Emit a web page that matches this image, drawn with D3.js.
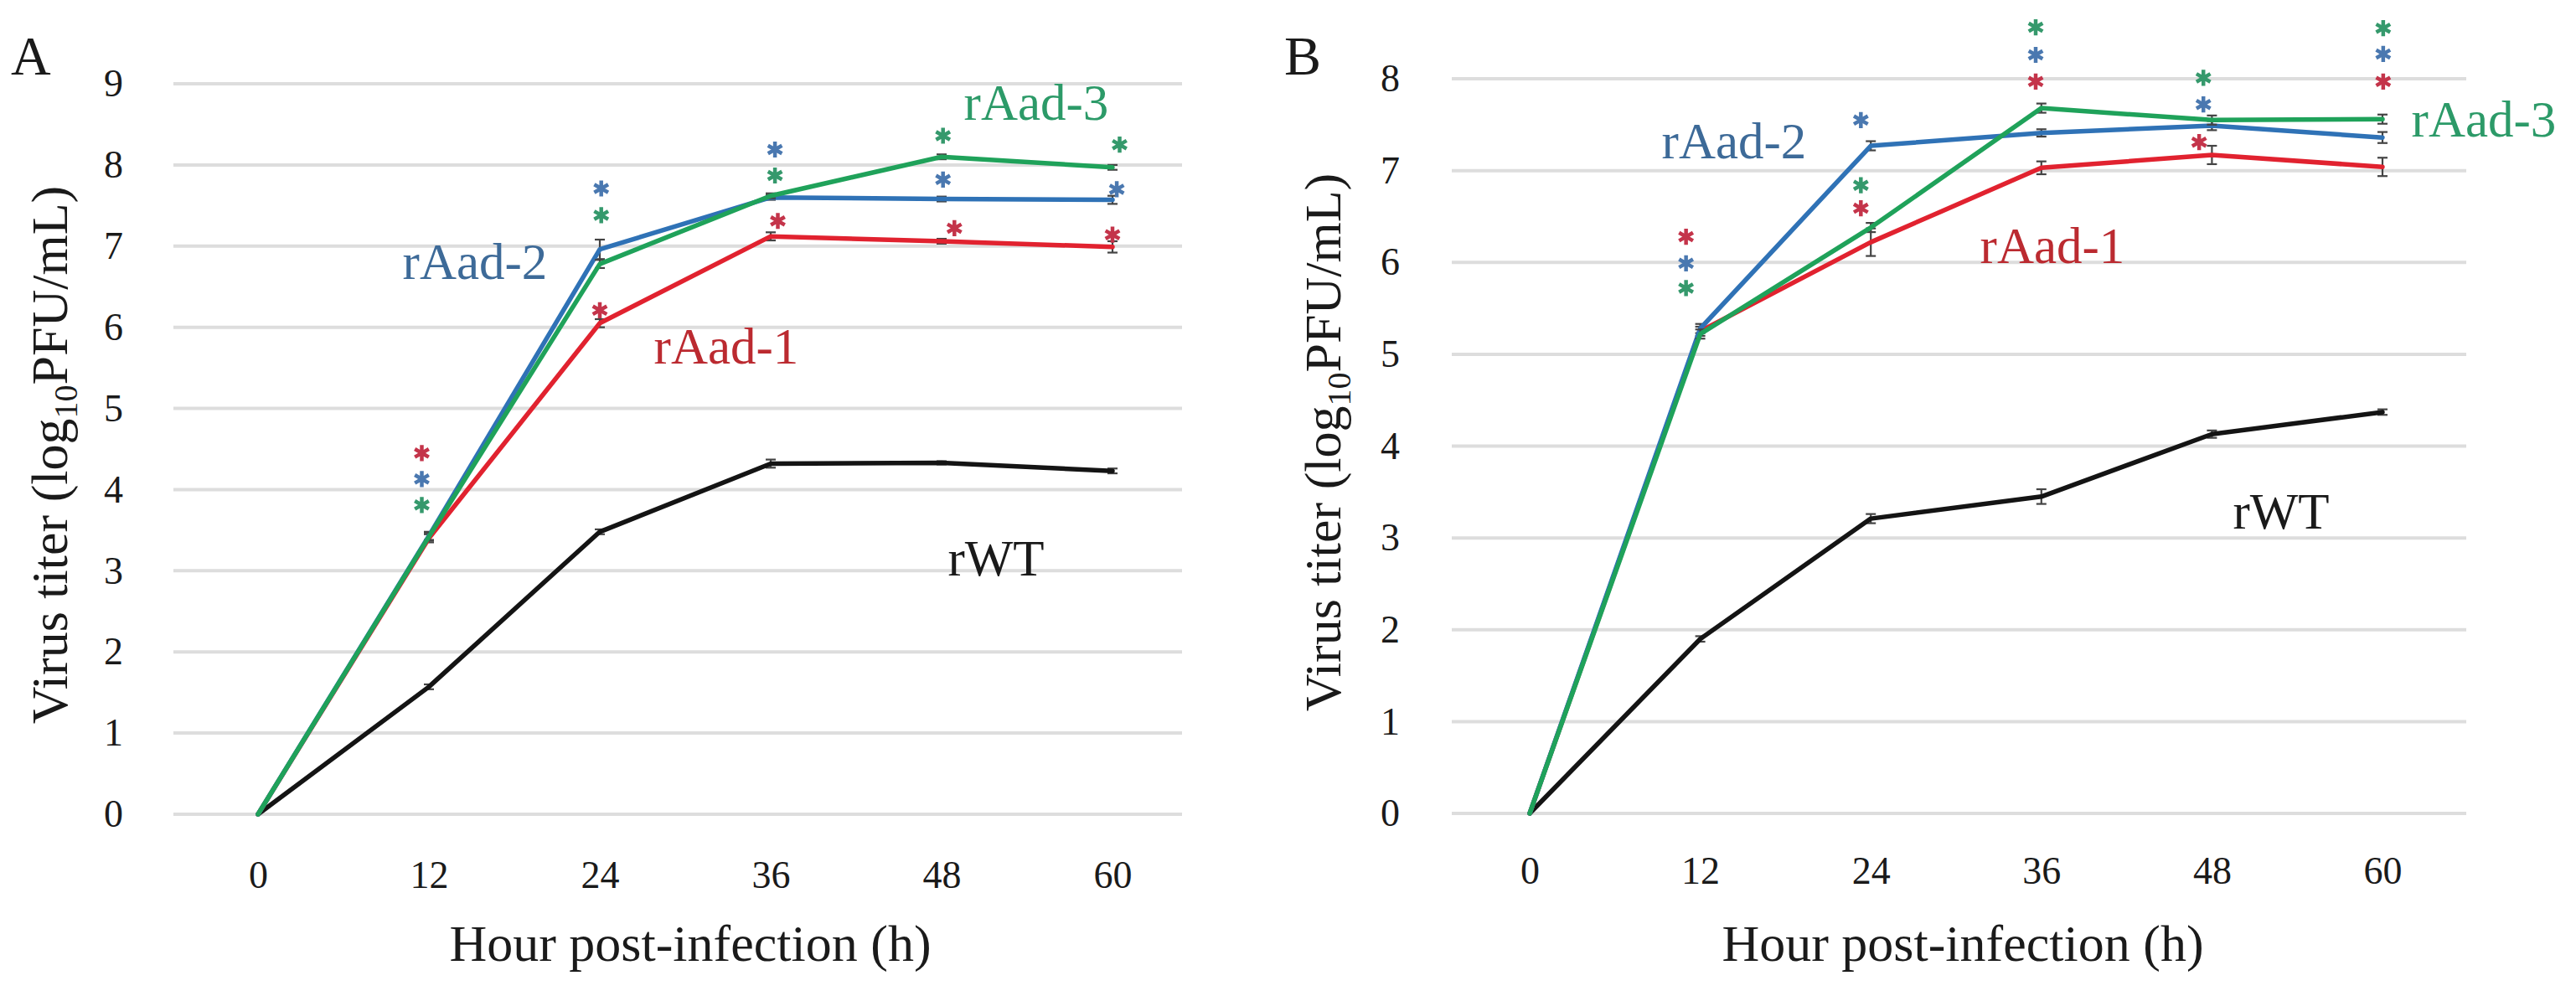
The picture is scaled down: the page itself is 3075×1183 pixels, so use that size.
<!DOCTYPE html>
<html>
<head>
<meta charset="utf-8">
<script src="https://cdn.jsdelivr.net/npm/d3@7/dist/d3.min.js"></script>
<style>
  html, body { margin: 0; padding: 0; background: #fff; }
  svg { display: block; }
</style>
</head>
<body>
<svg id="chart" width="3075" height="1183" font-family="Liberation Serif, Times New Roman, serif"></svg>
<script>
// ---------------- DATA ----------------
const hours = [0, 12, 24, 36, 48, 60];
const seriesNames = ["rWT", "rAad-1", "rAad-2", "rAad-3"];

// Panel A
const yTicksA = [0, 1, 2, 3, 4, 5, 6, 7, 8, 9];
const A_rWT   = [0, 1.57, 3.48, 4.32, 4.33, 4.23];
const A_rAad1 = [0, 3.40, 6.05, 7.12, 7.06, 6.99];
const A_rAad2 = [0, 3.43, 6.96, 7.60, 7.58, 7.57];
const A_rAad3 = [0, 3.42, 6.78, 7.62, 8.10, 7.97];
const A_err_rWT   = [0, 0.03, 0.03, 0.05, 0.02, 0.03];
const A_err_rAad1 = [0, 0.05, 0.05, 0.05, 0.03, 0.07];
const A_err_rAad2 = [0, 0.05, 0.12, 0.03, 0.03, 0.05];
const A_err_rAad3 = [0, 0.05, 0.05, 0.03, 0.03, 0.03];
// significance asterisks: [hour position, titer position, series]
const A_stars = [
  [11.5, 4.45, "rAad-1"], [11.5, 4.13, "rAad-2"], [11.5, 3.81, "rAad-3"],
  [24.1, 7.71, "rAad-2"], [24.1, 7.38, "rAad-3"], [24.0, 6.21, "rAad-1"],
  [36.3, 8.19, "rAad-2"], [36.3, 7.87, "rAad-3"], [36.5, 7.31, "rAad-1"],
  [48.1, 8.36, "rAad-3"], [48.1, 7.82, "rAad-2"], [48.9, 7.22, "rAad-1"],
  [60.5, 8.25, "rAad-3"], [60.3, 7.70, "rAad-2"], [60.0, 7.14, "rAad-1"]
];

// Panel B
const yTicksB = [0, 1, 2, 3, 4, 5, 6, 7, 8];
const B_rWT   = [0, 1.90, 3.21, 3.45, 4.13, 4.37];
const B_rAad1 = [0, 5.25, 6.22, 7.03, 7.17, 7.04];
const B_rAad2 = [0, 5.28, 7.27, 7.41, 7.49, 7.36];
const B_rAad3 = [0, 5.22, 6.38, 7.68, 7.55, 7.56];
const B_err_rWT   = [0, 0.03, 0.05, 0.08, 0.04, 0.03];
const B_err_rAad1 = [0, 0.05, 0.15, 0.07, 0.10, 0.10];
const B_err_rAad2 = [0, 0.05, 0.05, 0.04, 0.05, 0.06];
const B_err_rAad3 = [0, 0.05, 0.05, 0.05, 0.05, 0.05];
const B_stars = [
  [11.0, 6.28, "rAad-1"], [11.0, 5.99, "rAad-2"], [11.0, 5.72, "rAad-3"],
  [23.3, 7.55, "rAad-2"], [23.3, 6.84, "rAad-3"], [23.3, 6.59, "rAad-1"],
  [35.6, 8.56, "rAad-3"], [35.6, 8.26, "rAad-2"], [35.6, 7.97, "rAad-1"],
  [47.4, 8.01, "rAad-3"], [47.4, 7.72, "rAad-2"], [47.1, 7.31, "rAad-1"],
  [60.05, 8.55, "rAad-3"], [60.05, 8.27, "rAad-2"], [60.05, 7.97, "rAad-1"]
];

const xTitle = "Hour post-infection (h)";

// ---------------- STYLE ----------------
const FONT = "Liberation Serif, Times New Roman, serif";
const lineColor  = {"rWT": "#141414", "rAad-1": "#e1222f", "rAad-2": "#2f72b6", "rAad-3": "#1fa25a"};
const labelColor = {"rWT": "#1a1a1a", "rAad-1": "#bb2a30", "rAad-2": "#3d6a98", "rAad-3": "#2c9a68"};
const starColor  = {"rAad-1": "#c4344a", "rAad-2": "#4a78b0", "rAad-3": "#35996c"};

// ---------------- LAYOUT ----------------
const panels = [
  {
    letter: "A", letterX: 13, letterY: 89,
    x0: 308, x1: 1328, y0: 972, y1: 100, yMax: 9, yTicks: yTicksA,
    gridX0: 207, gridX1: 1411, yTickX: 147, xTickY: 1060, xTitleX: 824, xTitleY: 1147,
    yTitleX: 80, yTitleY: 543,
    values: {"rWT": A_rWT, "rAad-1": A_rAad1, "rAad-2": A_rAad2, "rAad-3": A_rAad3},
    errs: {"rWT": A_err_rWT, "rAad-1": A_err_rAad1, "rAad-2": A_err_rAad2, "rAad-3": A_err_rAad3},
    stars: A_stars,
    labels: {"rAad-2": [567, 333], "rAad-3": [1237, 143], "rAad-1": [867, 434], "rWT": [1189, 687]}
  },
  {
    letter: "B", letterX: 1533, letterY: 89,
    x0: 1826, x1: 2844, y0: 971, y1: 94, yMax: 8, yTicks: yTicksB,
    gridX0: 1733, gridX1: 2944, yTickX: 1671, xTickY: 1055, xTitleX: 2343, xTitleY: 1147,
    yTitleX: 1600, yTitleY: 528,
    values: {"rWT": B_rWT, "rAad-1": B_rAad1, "rAad-2": B_rAad2, "rAad-3": B_rAad3},
    errs: {"rWT": B_err_rWT, "rAad-1": B_err_rAad1, "rAad-2": B_err_rAad2, "rAad-3": B_err_rAad3},
    stars: B_stars,
    labels: {"rAad-2": [2070, 189], "rAad-3": [2965, 163], "rAad-1": [2450, 314], "rWT": [2723, 631]}
  }
];

const svg = d3.select("#chart");

panels.forEach(p => {
  const g = svg.append("g").attr("font-family", FONT);
  const x = d3.scaleLinear().domain([0, 60]).range([p.x0, p.x1]);
  const y = d3.scaleLinear().domain([0, p.yMax]).range([p.y0, p.y1]);

  // gridlines
  g.append("g").selectAll("line").data(p.yTicks).join("line")
    .attr("x1", p.gridX0).attr("x2", p.gridX1)
    .attr("y1", d => y(d)).attr("y2", d => y(d))
    .attr("stroke", "#dddddd").attr("stroke-width", 4);

  // y axis tick labels
  const yAxis = d3.axisLeft(y).tickValues(p.yTicks).tickSize(0).tickPadding(0).tickFormat(d3.format("d"));
  const ya = g.append("g").attr("transform", `translate(${p.yTickX},0)`).call(yAxis)
    .attr("font-family", FONT).attr("font-size", 46);
  ya.select(".domain").remove();
  ya.selectAll("text").attr("fill", "#1a1a1a");

  // x axis tick labels
  const xAxis = d3.axisBottom(x).tickValues(hours).tickSize(0).tickPadding(0).tickFormat(d3.format("d"));
  const xa = g.append("g").attr("transform", `translate(0,${p.xTickY})`).call(xAxis)
    .attr("font-family", FONT).attr("font-size", 46);
  xa.select(".domain").remove();
  xa.selectAll("text").attr("dy", null).attr("y", 0).attr("fill", "#1a1a1a");

  // x axis title
  g.append("text").attr("x", p.xTitleX).attr("y", p.xTitleY).attr("text-anchor", "middle")
    .attr("font-family", FONT).attr("font-size", 62).attr("fill", "#1a1a1a").text(xTitle);

  // y axis title (rotated)
  const yt = g.append("text")
    .attr("transform", `translate(${p.yTitleX},${p.yTitleY}) rotate(-90)`)
    .attr("text-anchor", "middle").attr("font-family", FONT).attr("font-size", 62).attr("fill", "#1a1a1a");
  yt.append("tspan").text("Virus titer (log");
  yt.append("tspan").attr("font-size", 40).attr("dy", 12).text("10");
  yt.append("tspan").attr("dy", -12).text("PFU/mL)");

  // panel letter
  g.append("text").attr("x", p.letterX).attr("y", p.letterY).attr("font-family", FONT).attr("font-size", 66)
    .attr("fill", "#1a1a1a").text(p.letter);

  // series lines
  const line = d3.line().x((d, i) => x(hours[i])).y(d => y(d));
  seriesNames.forEach(s => {
    const vals = p.values[s];
    const errs = p.errs[s];
    const eb = g.append("g").attr("stroke", "#444").attr("stroke-width", 2.2);
    vals.forEach((v, i) => {
      if (errs[i] <= 0) return;
      const cx = x(hours[i]);
      eb.append("line").attr("x1", cx).attr("x2", cx).attr("y1", y(v - errs[i])).attr("y2", y(v + errs[i]));
      eb.append("line").attr("x1", cx - 6).attr("x2", cx + 6).attr("y1", y(v - errs[i])).attr("y2", y(v - errs[i]));
      eb.append("line").attr("x1", cx - 6).attr("x2", cx + 6).attr("y1", y(v + errs[i])).attr("y2", y(v + errs[i]));
    });
    g.append("path").datum(vals).attr("d", line)
      .attr("fill", "none").attr("stroke", lineColor[s]).attr("stroke-width", 5.5)
      .attr("stroke-linejoin", "round").attr("stroke-linecap", "round");
  });

  // asterisks
  const sym = d3.symbol().type(d3.symbolAsterisk || d3.symbolCross).size(260);
  g.append("g").selectAll("path").data(p.stars).join("path")
    .attr("d", sym)
    .attr("transform", d => `translate(${x(d[0])},${y(d[1])})`)
    .attr("fill", "none").attr("stroke", d => starColor[d[2]]).attr("stroke-width", 4.5);

  // series labels
  seriesNames.forEach(s => {
    const pos = p.labels[s];
    g.append("text").attr("x", pos[0]).attr("y", pos[1]).attr("text-anchor", "middle")
      .attr("font-family", FONT).attr("font-size", 61).attr("fill", labelColor[s]).text(s);
  });
});
</script>
</body>
</html>
